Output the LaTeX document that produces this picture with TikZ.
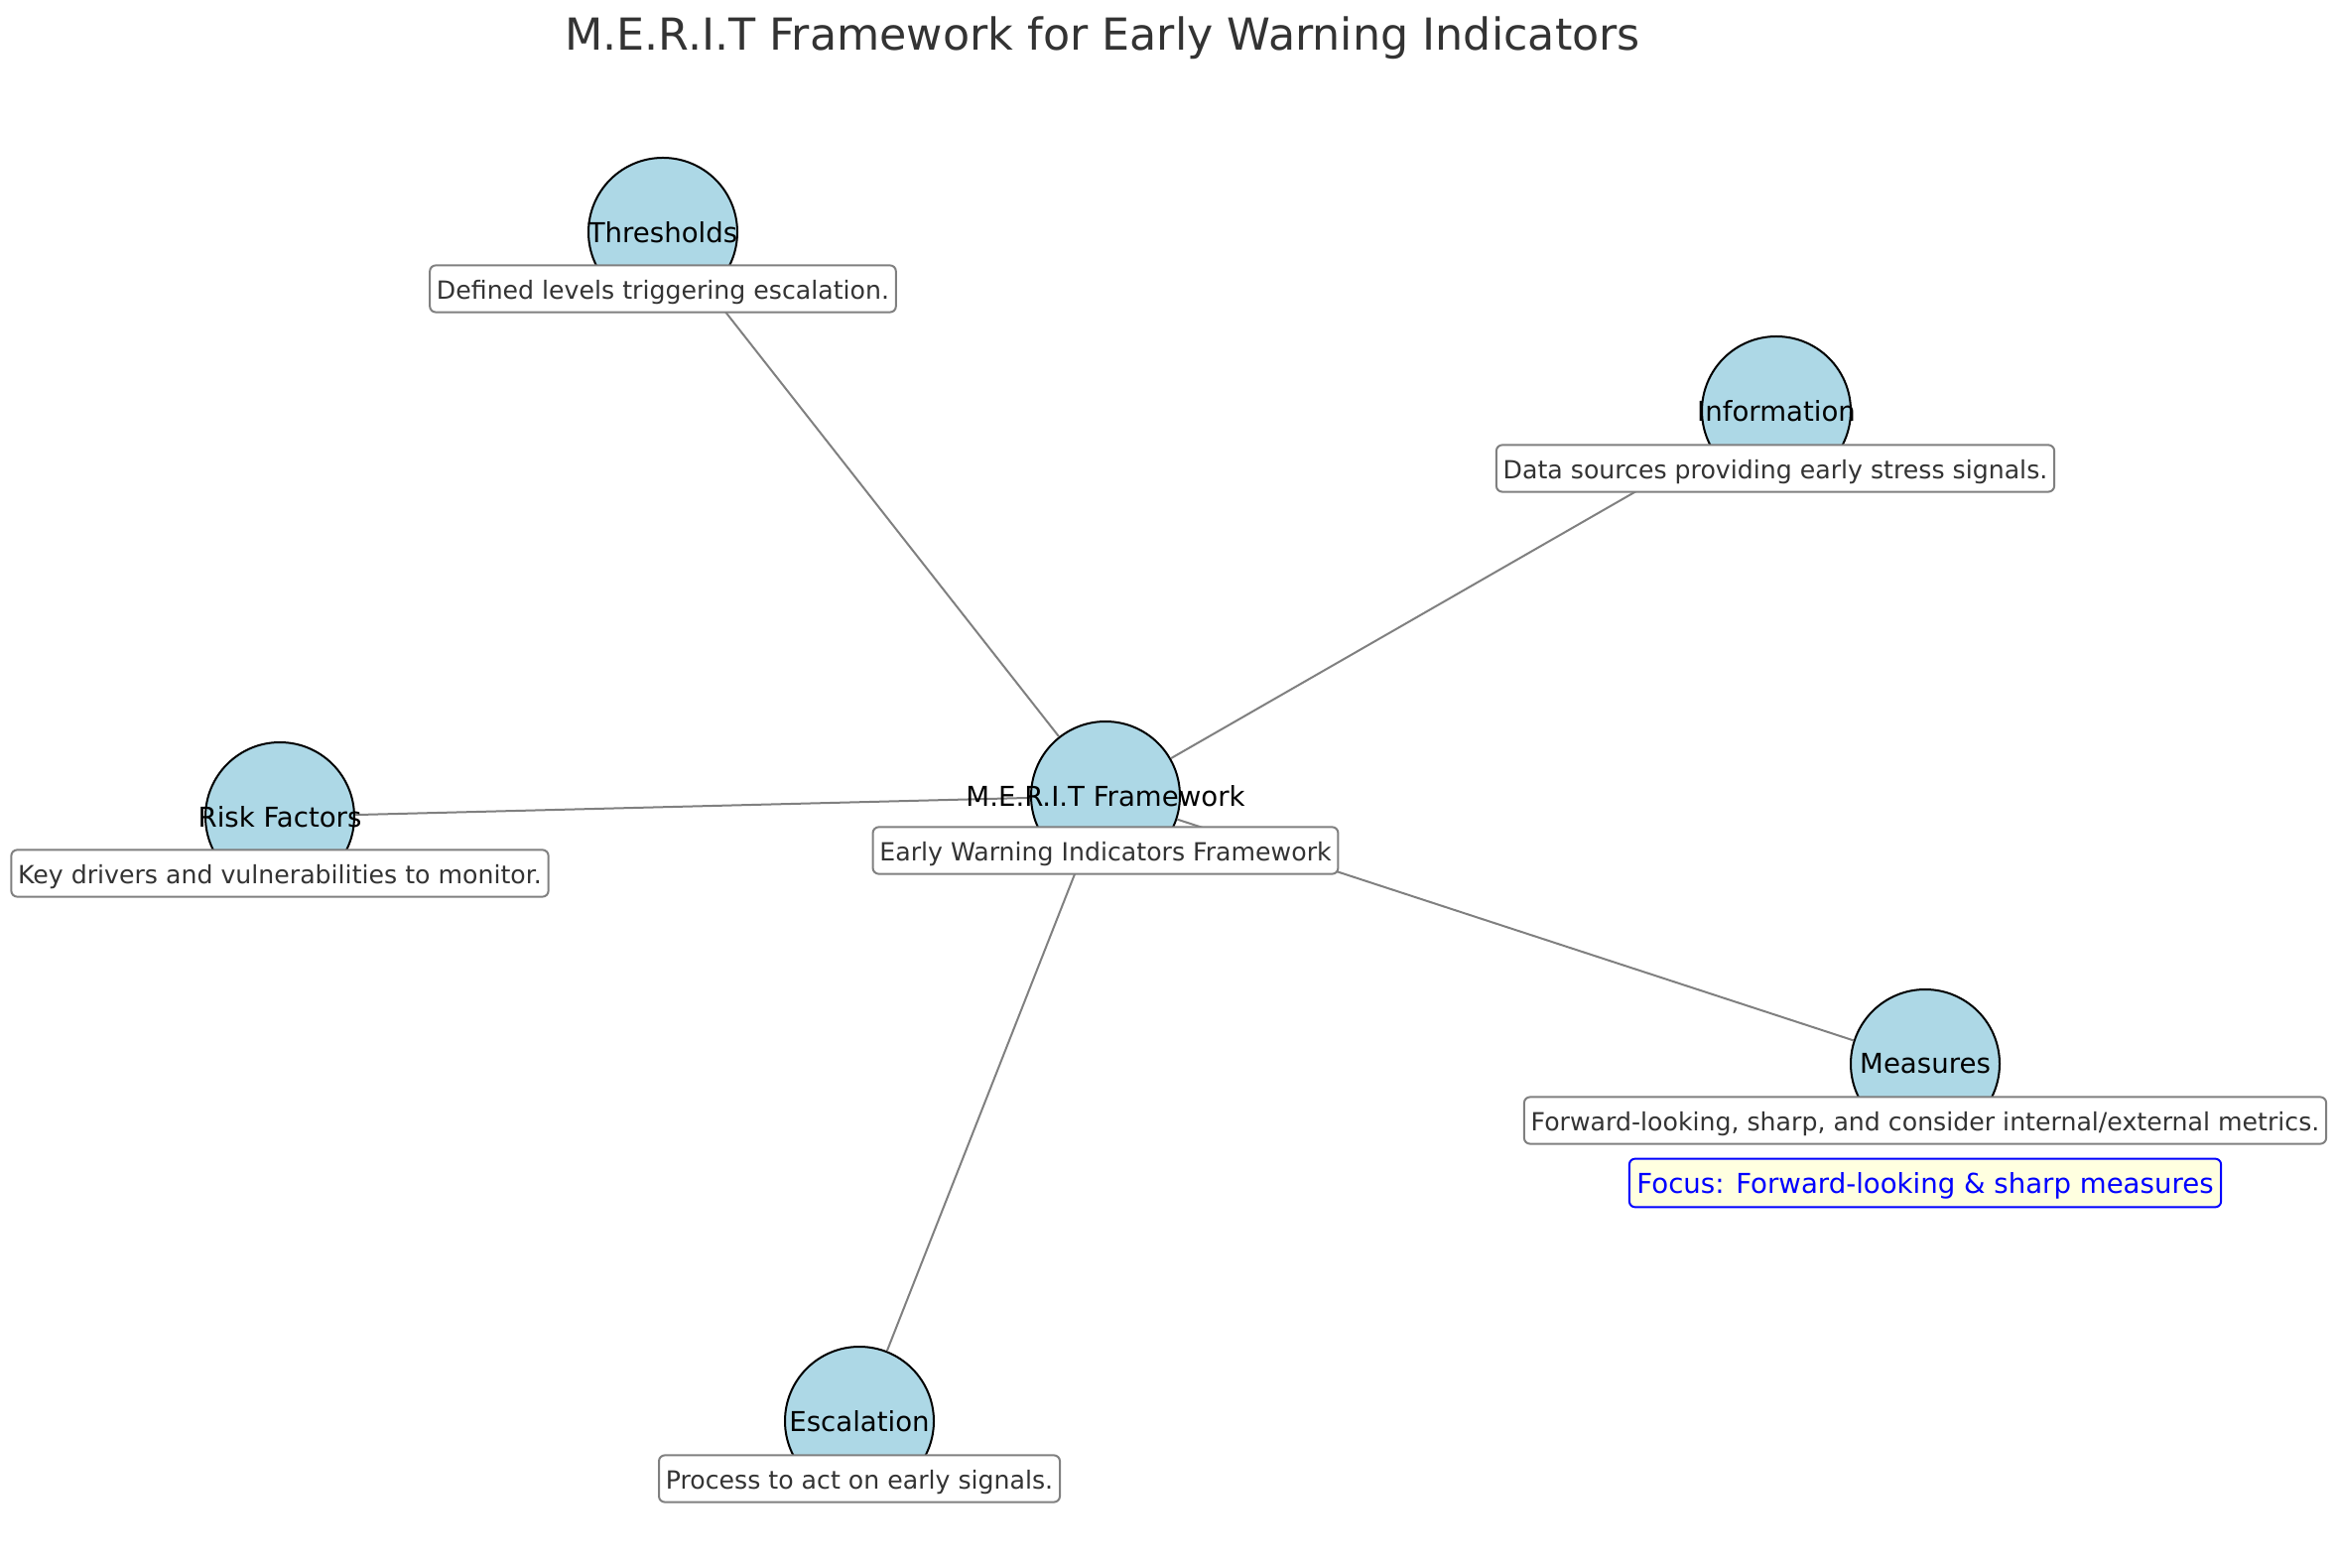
\documentclass[tikz,border=0pt]{standalone}
\usepackage{fontspec}
\setmainfont{DejaVu Sans}
\definecolor{nodeblue}{HTML}{ADD8E6}
\definecolor{edgegray}{HTML}{808080}
\definecolor{txtgray}{HTML}{333333}
\definecolor{lyellow}{HTML}{FFFFE0}
\begin{document}
\begin{tikzpicture}[x=0.25pt,y=-0.25pt,
  circ/.style={circle,draw=black,line width=0.5pt,fill=nodeblue,minimum size=37.5pt,inner sep=0pt},
  lab/.style={font=\fontsize{6.9pt}{8pt}\selectfont,text=black,inner sep=0pt},
  desc/.style={draw=edgegray,line width=0.5pt,fill=white,rounded corners=1.5pt,
    font=\fontsize{6.3pt}{7.5pt}\selectfont,text=txtgray,inner xsep=1.7pt,inner ysep=1.1pt,
    text height=0.74em,text depth=0.22em},
  focus/.style={draw=blue,line width=0.5pt,fill=lyellow,rounded corners=1.5pt,
    font=\fontsize{6.9pt}{8pt}\selectfont,text=blue,inner xsep=1.9pt,inner ysep=1.3pt,
    text height=0.74em,text depth=0.22em},
  edge/.style={draw=edgegray,line width=0.5pt}]
\useasboundingbox (0,0) rectangle (2354,1580);
% circles
\node[circ] (c) at (1114,802) {};
\node[circ] (t) at (668,234) {};
\node[circ] (i) at (1790,414) {};
\node[circ] (r) at (282,823) {};
\node[circ] (m) at (1940,1072) {};
\node[circ] (e) at (866,1432) {};
% edges
\path[edge] (c) -- (t);
\path[edge] (c) -- (i);
\path[edge] (c) -- (r);
\path[edge] (c) -- (m);
\path[edge] (c) -- (e);
% labels
\node[lab] (cl) at (c) {M.E.R.I.T Framework};
\node[lab] (tl) at (t) {Thresholds};
\node[lab] (il) at (i) {Information};
\node[lab] (rl) at (r) {Risk Factors};
\node[lab] (ml) at (m) {Measures};
\node[lab] (el) at (e) {Escalation};
% descriptions
\node[desc] (cd) at (1114,857) {Early Warning Indicators Framework};
\node[desc] (td) at (668,291) {Defined levels triggering escalation.};
\node[desc] (id) at (1789,472) {Data sources providing early stress signals.};
\node[desc] (rd) at (282,880) {Key drivers and vulnerabilities to monitor.};
\node[desc] (md) at (1940,1129) {Forward-looking, sharp, and consider internal/external metrics.};
\node[desc] (ed) at (866,1490) {Process to act on early signals.};
\node[focus] (f) at (1940,1192) {Focus: Forward-looking \& sharp measures};
% title
\node[font=\fontsize{11.1pt}{13pt}\selectfont,text=txtgray] (title) at (1111,38) {M.E.R.I.T Framework for Early Warning Indicators};
\end{tikzpicture}
\end{document}
